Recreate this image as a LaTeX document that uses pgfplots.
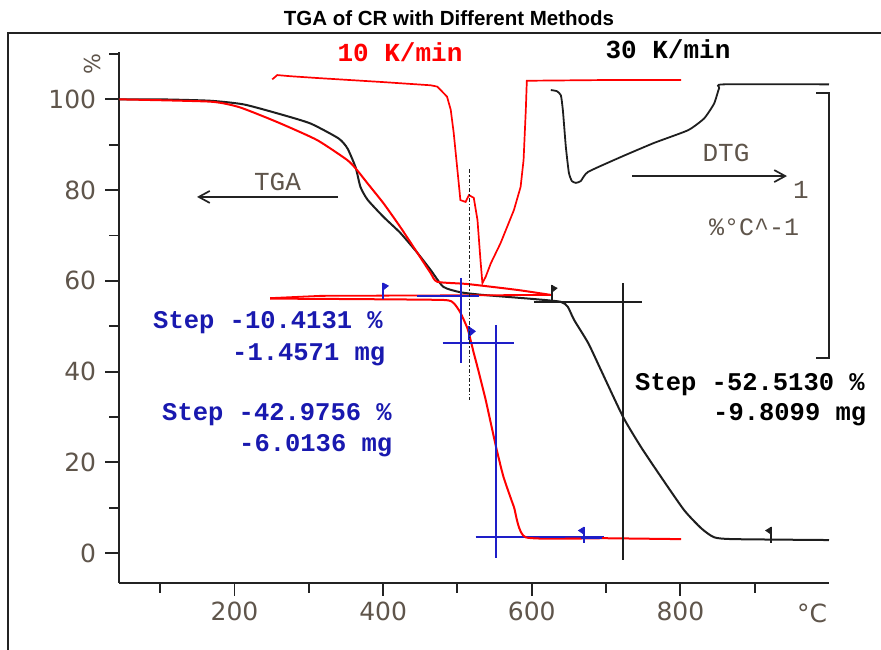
\documentclass[border=0pt]{standalone}
\usepackage{pgfplots}
\pgfplotsset{compat=1.18}
\usetikzlibrary{arrows.meta}
\usepackage{fontspec}
\setmainfont{DejaVu Sans}
\newfontfamily\mono{Liberation Mono}
\newfontfamily\titlefont{Liberation Sans}
\definecolor{tickcol}{RGB}{95,85,75}
\definecolor{axcol}{RGB}{35,35,35}
\definecolor{curvblack}{RGB}{30,30,30}
\definecolor{tgared}{RGB}{255,0,0}
\definecolor{stepblue}{RGB}{25,25,175}
\definecolor{lineblue}{RGB}{30,30,200}

\begin{document}
\begin{tikzpicture}
\useasboundingbox (0pt,0pt) rectangle (881pt,-650pt);
% outer frame
\draw[line width=2pt, color=axcol] (8.3pt,-660pt) -- (8.3pt,-33pt) -- (890pt,-33pt);

\begin{axis}[
  at={(119.3pt,-582.7pt)}, anchor=south west,
  scale only axis, width=709.7pt, height=531pt,
  xmin=45, xmax=1000, ymin=-6.5, ymax=110.5,
  axis x line*=bottom, axis y line*=left,
  axis line style={line width=1.9pt, color=axcol, -},
  xtick={200,400,600,800}, ytick={0,20,40,60,80,100},
  minor xtick={100,300,500,700,900}, minor ytick={10,30,50,70,90,110},
  tick align=outside, major tick length=10pt, minor tick length=10pt,
  major tick style={line width=1.9pt, color=axcol},
  minor tick style={line width=1.9pt, color=axcol},
  /pgf/number format/assume math mode=true,
  ticklabel style={font=\fontsize{25}{25}\selectfont, text=tickcol, inner sep=0pt},
  yticklabel shift=13pt, xticklabel shift=9pt,
  clip=false,
]
% major tick marks
\draw[axcol, line width=1.9pt] (axis cs:200,-6.5) -- (axis cs:200,-9.36);
\draw[axcol, line width=1.9pt] (axis cs:400,-6.5) -- (axis cs:400,-9.36);
\draw[axcol, line width=1.9pt] (axis cs:600,-6.5) -- (axis cs:600,-9.36);
\draw[axcol, line width=1.9pt] (axis cs:800,-6.5) -- (axis cs:800,-9.36);
\draw[axcol, line width=1.9pt] (axis cs:45,0) -- (axis cs:26.2,0);
\draw[axcol, line width=1.9pt] (axis cs:45,20) -- (axis cs:26.2,20);
\draw[axcol, line width=1.9pt] (axis cs:45,40) -- (axis cs:26.2,40);
\draw[axcol, line width=1.9pt] (axis cs:45,60) -- (axis cs:26.2,60);
\draw[axcol, line width=1.9pt] (axis cs:45,80) -- (axis cs:26.2,80);
\draw[axcol, line width=1.9pt] (axis cs:45,100) -- (axis cs:26.2,100);
% ---- TGA curves ----
\addplot[curvblack, line width=2pt, smooth, tension=0.35] coordinates {
(45,100)(100,100)(167,99.7)(212,98.9)(258,96.9)(302,94.7)(340,91.4)(352,89.2)(363,85.0)(369.5,80.7)(379,77.9)(400.5,74.1)(423,70.6)(446,66.2)(464,62.4)(481,58.7)(504,57.5)(535,56.9)(603,56.0)(639,55.4)(648.5,54.3)(657,51.4)(676,46.3)(693,40.4)(723,30.0)(747,23.4)(774,16.8)(805,9.5)(828,5.5)(845.5,3.5)(872,3.1)(1000,2.9)};
\addplot[tgared, line width=2pt, smooth, tension=0.35] coordinates {
(45,100)(167,99.5)(204,98.4)(235,96.5)(266,94.4)(311.5,91.0)(352,86.6)(365,84.4)(379,81.5)(400.5,77.1)(423,71.9)(446,66.2)(464,61.7)(473,59.8)(514,59.3)(581,58.0)(626,56.9)};
\addplot[tgared, line width=1.8pt] coordinates {(248,56.2)(315,56.7)(626,56.9)};
% blue step lines (under red)
\addplot[lineblue, line width=1.8pt] coordinates {(446,56.6)(529,56.6)};
\addplot[lineblue, line width=1.8pt] coordinates {(524.6,3.6)(697,3.6)};
\addplot[tgared, line width=2pt, smooth, tension=0.3] coordinates {
(248,56.1)(350,56.0)(481,55.8)(495,55.1)(504,53.0)(514,49.3)(522,44.1)(527,41.0)(538,33.8)(552,23.4)(562,16.8)(576,10.2)(592,3.5)(700,3.3)(801,3.1)};
\addplot[lineblue, line width=1.8pt] coordinates {(611,3.45)(645,3.45)};
\addplot[lineblue, line width=1.8pt] coordinates {(666,3.4)(694,3.4)};
% ---- DTG curves ----
\addplot[tgared, line width=1.7pt] coordinates {
(250.8,104.4)(257.6,105.35)(275,105.1)(311.5,104.7)(400.5,103.8)(464,103.1)(473,102.8)(486,100.6)(491,97.7)(495,92.6)(500,84.4)(504,77.8)(511,77.4)(515.5,78.9)(522,78.3)(527,73.4)(531,64.6)(533.6,59.5)(538,60.9)(545,63.9)(558,68.3)(576,75.6)(585,80.7)(589,86.6)(592,97.6)(593.4,104.1)(693,104.25)(801,104.25)};
\addplot[curvblack, line width=1.8pt, smooth, tension=0.3] coordinates {
(625.7,102.05)(633.8,101.8)(639.2,100.9)(641.9,97.6)(645.9,89.5)(650,83.8)(654,82.0)(659.4,81.6)(666,82.0)(675.6,84.0)(720,87.3)(764.6,90.4)(810.4,93.2)(832,95.8)(845.5,99.1)(852.2,102.5)(857.6,103.3)(1000,103.3)};
% ---- crosshairs ----
\addplot[lineblue, line width=1.8pt] coordinates {(504.3,60.6)(504.3,41.9)};
\addplot[lineblue, line width=1.8pt] coordinates {(480,46.3)(576,46.3)};
\addplot[lineblue, line width=1.8pt] coordinates {(551.6,50.3)(551.6,-1.0)};
\addplot[lineblue, line width=1.8pt] coordinates {(400,56.0)(400,59.5)};
\addplot[lineblue, fill=lineblue, line width=0.8pt] coordinates {(400,59.5)(407,58.9)(400,58.0)} -- cycle;
\addplot[lineblue, line width=1.8pt] coordinates {(516,47.0)(516,50.0)};
\addplot[lineblue, fill=lineblue, line width=0.8pt] coordinates {(516,49.8)(524,48.9)(516,47.8)} -- cycle;
\addplot[lineblue, line width=1.8pt] coordinates {(670,2.3)(670,5.7)};
\addplot[lineblue, fill=lineblue, line width=0.8pt] coordinates {(670,5.7)(663,5.0)(670,4.2)} -- cycle;
\addplot[curvblack, line width=1.8pt] coordinates {(603,55.35)(748,55.35)};
\addplot[curvblack, line width=1.8pt] coordinates {(723,59.5)(723,-1.5)};
\addplot[curvblack, line width=1.8pt] coordinates {(627,55.9)(627,59.0)};
\addplot[curvblack, fill=curvblack, line width=0.8pt] coordinates {(627,59.0)(634,58.4)(627,57.5)} -- cycle;
\addplot[curvblack, line width=1.8pt] coordinates {(922,2.3)(922,5.7)};
\addplot[curvblack, fill=curvblack, line width=0.8pt] coordinates {(922,5.7)(915,5.0)(922,4.2)} -- cycle;
\addplot[curvblack, line width=1.4pt, dash pattern=on 4pt off 2pt on 1.5pt off 2pt] coordinates {(516,84.6)(516,33.8)};
% bracket
\addplot[axcol, line width=2pt] coordinates {(983,101.4)(1000,101.4)(1000,43.0)(983,43.0)};
% arrows
\addplot[axcol, line width=1.7pt, -{Straight Barb[length=11pt,width=12pt,line width=1.7pt]}] coordinates {(339.3,78.5)(149.6,78.5)};
\addplot[axcol, line width=1.7pt, -{Straight Barb[length=11pt,width=12pt,line width=1.7pt]}] coordinates {(735,83.1)(943.5,83.1)};
\end{axis}

% ---- texts ----
\node[anchor=base, inner sep=0pt, font=\titlefont\bfseries\fontsize{20.5}{20.5}\selectfont] at (449pt,-25.5pt) {TGA of CR with Different Methods};
\node[anchor=base, inner sep=0pt, text=tgared, font=\mono\bfseries\fontsize{26}{26}\selectfont] at (400pt,-62pt) {10 K/min};
\node[anchor=base, inner sep=0pt, text=black, font=\mono\bfseries\fontsize{26}{26}\selectfont] at (668pt,-59pt) {30 K/min};
\node[anchor=base west, inner sep=0pt, text=stepblue, font=\mono\bfseries\fontsize{25.5}{25.5}\selectfont] at (153pt,-328pt) {Step -10.4131 \%};
\node[anchor=base west, inner sep=0pt, text=stepblue, font=\mono\bfseries\fontsize{25.5}{25.5}\selectfont] at (232pt,-360pt) {-1.4571 mg};
\node[anchor=base west, inner sep=0pt, text=stepblue, font=\mono\bfseries\fontsize{25.5}{25.5}\selectfont] at (162pt,-420pt) {Step -42.9756 \%};
\node[anchor=base west, inner sep=0pt, text=stepblue, font=\mono\bfseries\fontsize{25.5}{25.5}\selectfont] at (239pt,-451.7pt) {-6.0136 mg};
\node[anchor=base west, inner sep=0pt, text=black, font=\mono\bfseries\fontsize{25.5}{25.5}\selectfont] at (635pt,-390pt) {Step -52.5130 \%};
\node[anchor=base west, inner sep=0pt, text=black, font=\mono\bfseries\fontsize{25.5}{25.5}\selectfont] at (713pt,-420.7pt) {-9.8099 mg};
\node[anchor=base, inner sep=0pt, text=tickcol, font=\mono\fontsize{26}{26}\selectfont] at (277.5pt,-190pt) {TGA};
\node[anchor=base, inner sep=0pt, text=tickcol, font=\mono\fontsize{26}{26}\selectfont] at (726pt,-162pt) {DTG};
\node[anchor=base, inner sep=0pt, text=tickcol, font=\mono\fontsize{26}{26}\selectfont] at (801pt,-198pt) {1};
\node[anchor=base, inner sep=0pt, text=tickcol, font=\mono\fontsize{25}{25}\selectfont] at (754pt,-235pt) {\%°C\^{}-1};
\node[anchor=base, inner sep=0pt, text=tickcol, font=\fontsize{25}{25}\selectfont] at (812pt,-622pt) {°C};
\node[inner sep=0pt, text=tickcol, rotate=90, font=\fontsize{22}{22}\selectfont] at (92pt,-64pt) {\%};
\end{tikzpicture}
\end{document}
